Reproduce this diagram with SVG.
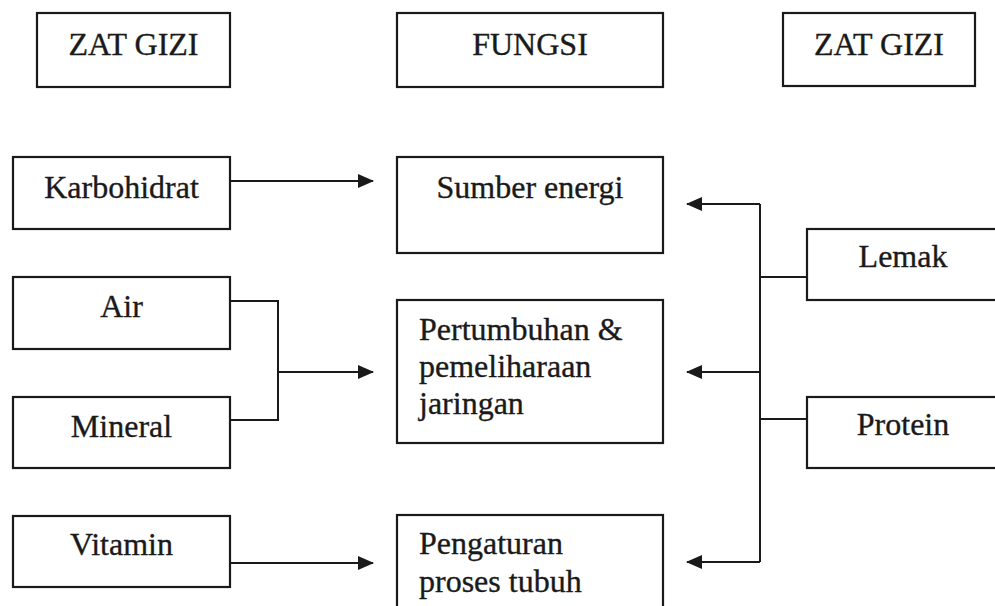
<svg xmlns="http://www.w3.org/2000/svg" width="995" height="606" viewBox="0 0 995 606">
<defs>
<style>
.box{fill:#fff;stroke:#1a1a1a;stroke-width:2.2}
.t{font-family:"Liberation Serif","Times New Roman",serif;font-size:32px;fill:#1a1a1a;stroke:#1a1a1a;stroke-width:0.35}
.c{text-anchor:middle}
.ln{fill:none;stroke:#1a1a1a;stroke-width:2}
</style>
<marker id="ah" markerUnits="userSpaceOnUse" markerWidth="17" markerHeight="15" refX="15" refY="7" orient="auto">
<path d="M0,0 L16,7 L0,14 z" fill="#1a1a1a"/>
</marker>
</defs>
<rect width="995" height="606" fill="#fff"/>
<g id="h1"><rect class="box" x="37" y="13" width="193" height="74"/><text class="t c" x="133.5" y="55">ZAT GIZI</text></g>
<g id="h2"><rect class="box" x="397" y="13" width="266" height="74"/><text class="t c" x="530" y="55">FUNGSI</text></g>
<g id="h3"><rect class="box" x="783" y="13" width="192" height="73"/><text class="t c" x="879" y="55">ZAT GIZI</text></g>
<g id="karbohidrat"><rect class="box" x="13" y="157" width="217" height="72"/><text class="t c" x="121.5" y="198">Karbohidrat</text></g>
<g id="air"><rect class="box" x="13" y="277" width="217" height="72"/><text class="t c" x="121.5" y="317">Air</text></g>
<g id="mineral"><rect class="box" x="13" y="397" width="217" height="71"/><text class="t c" x="121.5" y="437">Mineral</text></g>
<g id="vitamin"><rect class="box" x="13" y="516" width="217" height="71"/><text class="t c" x="121.5" y="555">Vitamin</text></g>
<g id="sumber"><rect class="box" x="397" y="157" width="266" height="96"/><text class="t c" x="530" y="198">Sumber energi</text></g>
<g id="pertumbuhan"><rect class="box" x="397" y="300" width="266" height="143"/><text class="t" x="419" y="340">Pertumbuhan &amp;</text><text class="t" x="419" y="377">pemeliharaan</text><text class="t" x="419" y="414">jaringan</text></g>
<g id="pengaturan"><rect class="box" x="397" y="515" width="266" height="110"/><text class="t" x="419" y="554">Pengaturan</text><text class="t" x="419" y="592">proses tubuh</text></g>
<g id="lemak"><rect class="box" x="807" y="229" width="200" height="71"/><text class="t c" x="903" y="267">Lemak</text></g>
<g id="protein"><rect class="box" x="807" y="397" width="200" height="71"/><text class="t c" x="903" y="435">Protein</text></g>
<g id="connectors">
<line class="ln" x1="230" y1="181" x2="373" y2="181" marker-end="url(#ah)"/>
<polyline class="ln" points="230,301 278,301 278,420 230,420"/>
<line class="ln" x1="278" y1="372" x2="373" y2="372" marker-end="url(#ah)"/>
<line class="ln" x1="230" y1="563" x2="373" y2="563" marker-end="url(#ah)"/>
<polyline class="ln" points="760,204 760,562"/>
<line class="ln" x1="760" y1="204" x2="687" y2="204" marker-end="url(#ah)"/>
<line class="ln" x1="760" y1="372" x2="687" y2="372" marker-end="url(#ah)"/>
<line class="ln" x1="760" y1="562" x2="687" y2="562" marker-end="url(#ah)"/>
<line class="ln" x1="760" y1="277" x2="807" y2="277"/>
<line class="ln" x1="760" y1="419" x2="807" y2="419"/>
</g>
</svg>
